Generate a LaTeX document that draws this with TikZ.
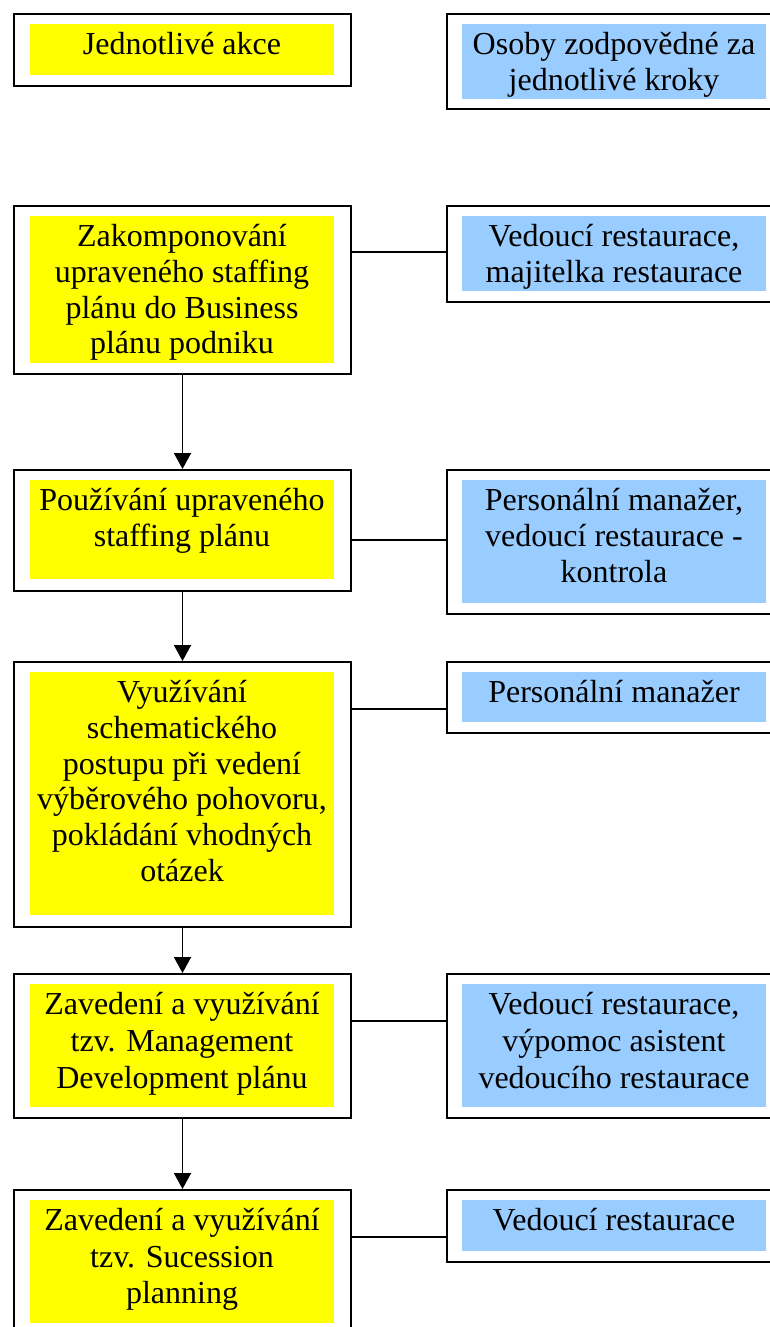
\documentclass[tikz,border=0pt]{standalone}
\usepackage{fontspec}
\setmainfont{Liberation Serif}
\usetikzlibrary{arrows.meta}
\definecolor{boxyellow}{RGB}{255,255,0}
\definecolor{boxblue}{RGB}{153,204,255}
\begin{document}
\begin{tikzpicture}[x=1pt,y=-1pt,
  outerbox/.style={draw=black, line width=2pt, inner sep=0pt, anchor=north west, minimum width=337pt},
  yellowfill/.style={fill=boxyellow, inner sep=0pt, anchor=north west, minimum width=304pt},
  bluefill/.style={fill=boxblue, inner sep=0pt, anchor=north west, minimum width=304pt},
  boxtext/.style={inner sep=0pt, anchor=north, align=center, font=\fontsize{32}{35.7}\selectfont},
  boxtextwide/.style={inner sep=0pt, anchor=north, align=center, font=\fontsize{32}{37}\selectfont},
  boxtextmid/.style={inner sep=0pt, anchor=north, align=center, font=\fontsize{32}{36.5}\selectfont},
  flowarrow/.style={line width=1.8pt, -{Triangle[width=17pt,length=16pt]}},
  linkline/.style={line width=1.6pt}]
\useasboundingbox (0,0) rectangle (770,1327);
\clip (0,0) rectangle (770,1327);
\fill[white] (0,0) rectangle (770,1327);

% Row 1
\node[outerbox, minimum height=72pt] (L1) at (13,13) {};
\node[yellowfill, minimum height=51pt] (Y1) at (30,24) {};
\node[boxtext] (T1) at (182,29.5) {\strut Jednotlivé akce};
\node[outerbox, minimum height=95pt] (R1) at (446,13) {};
\node[bluefill, minimum height=75pt] (B1) at (462,24) {};
\node[boxtext] (S1) at (614,29.5) {\strut Osoby zodpovědné za\\jednotlivé kroky};

% Row 2
\node[outerbox, minimum height=168pt] (L2) at (13,205) {};
\node[yellowfill, minimum height=147pt] (Y2) at (30,216) {};
\node[boxtext] (T2) at (182,221.5) {\strut Zakomponování\\upraveného staffing\\plánu do Business\\plánu podniku};
\node[outerbox, minimum height=96pt] (R2) at (446,205) {};
\node[bluefill, minimum height=75pt] (B2) at (462,216) {};
\node[boxtext] (S2) at (614,221.5) {\strut Vedoucí restaurace,\\majitelka restaurace};

% Row 3
\node[outerbox, minimum height=121pt] (L3) at (13,469) {};
\node[yellowfill, minimum height=99pt] (Y3) at (30,480) {};
\node[boxtext] (T3) at (182,485.5) {\strut Používání upraveného\\staffing plánu};
\node[outerbox, minimum height=144pt] (R3) at (446,469) {};
\node[bluefill, minimum height=123pt] (B3) at (462,480) {};
\node[boxtext] (S3) at (614,485.5) {\strut Personální manažer,\\vedoucí restaurace -\\kontrola};

% Row 4
\node[outerbox, minimum height=265pt] (L4) at (13,661) {};
\node[yellowfill, minimum height=243pt] (Y4) at (30,672) {};
\node[boxtext] (T4) at (182,677.5) {\strut Využívání\\schematického\\postupu při vedení\\výběrového pohovoru,\\pokládání vhodných\\otázek};
\node[outerbox, minimum height=71pt] (R4) at (446,661) {};
\node[bluefill, minimum height=50pt] (B4) at (462,672) {};
\node[boxtext] (S4) at (614,677.5) {\strut Personální manažer};

% Row 5
\node[outerbox, minimum height=144pt] (L5) at (13,973) {};
\node[yellowfill, minimum height=123pt] (Y5) at (30,984) {};
\node[boxtextwide] (T5) at (182,988.5) {\strut Zavedení a využívání\\tzv. Management\\Development plánu};
\node[outerbox, minimum height=144pt] (R5) at (446,973) {};
\node[bluefill, minimum height=123pt] (B5) at (462,984) {};
\node[boxtextwide] (S5) at (614,988.5) {\strut Vedoucí restaurace,\\výpomoc asistent\\vedoucího restaurace};

% Row 6
\node[outerbox, minimum height=145pt] (L6) at (13,1189) {};
\node[yellowfill, minimum height=123pt] (Y6) at (30,1200) {};
\node[boxtextmid] (T6) at (182,1205) {\strut Zavedení a využívání\\tzv. Sucession\\planning};
\node[outerbox, minimum height=72pt] (R6) at (446,1189) {};
\node[bluefill, minimum height=51pt] (B6) at (462,1200) {};
\node[boxtextmid] (S6) at (614,1205) {\strut Vedoucí restaurace};

% horizontal links
\coordinate (c2) at (398,252);
\coordinate (c3) at (398,540);
\coordinate (c4) at (398,709);
\coordinate (c5) at (398,1021);
\coordinate (c6) at (398,1237);
\draw[linkline] (L2.east |- c2) -- (R2.west |- c2);
\draw[linkline] (L3.east |- c3) -- (R3.west |- c3);
\draw[linkline] (L4.east |- c4) -- (R4.west |- c4);
\draw[linkline] (L5.east |- c5) -- (R5.west |- c5);
\draw[linkline] (L6.east |- c6) -- (R6.west |- c6);

% vertical arrows
\draw[flowarrow] (L2.south) -- (L3.north);
\draw[flowarrow] (L3.south) -- (L4.north);
\draw[flowarrow] (L4.south) -- (L5.north);
\draw[flowarrow] (L5.south) -- (L6.north);
\end{tikzpicture}
\end{document}
